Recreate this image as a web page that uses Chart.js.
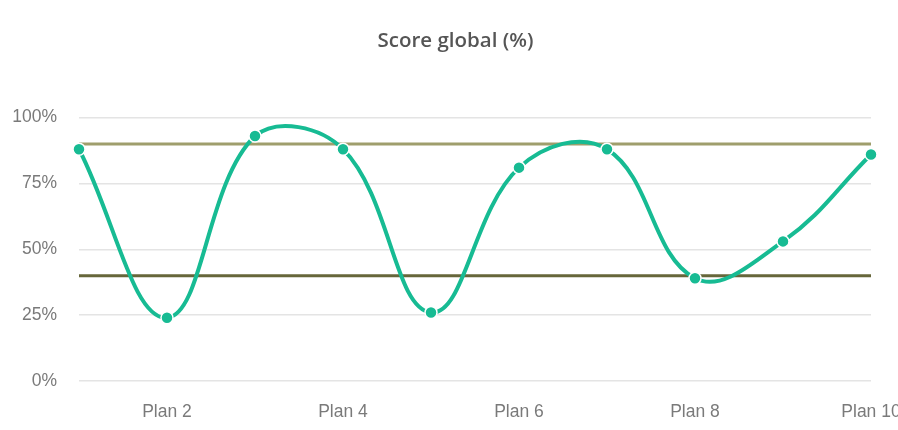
<!DOCTYPE html>
<html>
<head>
<meta charset="utf-8">
<script src="https://cdn.jsdelivr.net/npm/chart.js@4/dist/chart.umd.min.js"></script>
<style>
  html, body { margin: 0; padding: 0; background: #fff; overflow: hidden; }
  #wrap { position: relative; width: 900px; height: 430px; }
</style>
</head>
<body>
<div id="wrap"><canvas id="scoreChart"></canvas></div>
<script>
const plans = ['Plan 1', 'Plan 2', 'Plan 3', 'Plan 4', 'Plan 5', 'Plan 6', 'Plan 7', 'Plan 8', 'Plan 9', 'Plan 10'];
const scores = [88, 24, 93, 88, 26, 81, 88, 39, 53, 86];
const upperLimit = 90;
const lowerLimit = 40;
const yTicks = [0, 25, 50, 75, 100];

const tickFont = { family: "'Liberation Sans', Arial, Helvetica, sans-serif", size: 17.5 };
const tickColor = '#7a7a7a';

const ctx = document.getElementById('scoreChart').getContext('2d');
const chart = new Chart(ctx, {
    type: 'line',
    data: {
        labels: plans,
        datasets: [
            {
                label: 'Score global',
                data: scores,
                borderColor: '#17bb93',
                backgroundColor: '#17bb93',
                borderWidth: 4,
                tension: 0.4,
                pointRadius: 6,
                pointBorderColor: '#ffffff',
                pointBorderWidth: 1.5,
                pointBackgroundColor: '#17bb93',
                fill: false
            },
            {
                label: 'Haut',
                data: plans.map(() => upperLimit),
                borderColor: '#9f9e6c',
                borderWidth: 3,
                pointRadius: 0,
                tension: 0,
                fill: false
            },
            {
                label: 'Bas',
                data: plans.map(() => lowerLimit),
                borderColor: '#66663a',
                borderWidth: 3,
                pointRadius: 0,
                tension: 0,
                fill: false
            }
        ]
    },
    options: {
        responsive: true,
        maintainAspectRatio: false,
        animation: false,
        layout: {
            padding: { left: 11, right: 0, top: 0, bottom: 8 }
        },
        scales: {
            x: {
                grid: { display: false, drawTicks: false },
                border: { display: false },
                afterFit: s => { s.height = 41; s.paddingLeft = 0; s.paddingRight = 29; },
                ticks: {
                    autoSkip: false,
                    maxRotation: 0,
                    minRotation: 0,
                    padding: 21,
                    font: tickFont,
                    // only every second plan is labelled (Plan 2, 4, ...)
                    color: c => c.index % 2 === 1 ? tickColor : 'rgba(0,0,0,0)'
                }
            },
            y: {
                min: 0,
                max: 100,
                afterBuildTicks: axis => { axis.ticks = yTicks.map(v => ({ value: v })); },
                afterFit: axis => { axis.width = 68; },
                grid: { color: '#e4e4e4', lineWidth: 1.5, drawTicks: false },
                border: { display: false },
                ticks: {
                    padding: 22,
                    color: tickColor,
                    font: tickFont,
                    callback: v => v + '%'
                }
            }
        },
        plugins: {
            legend: { display: false },
            tooltip: { enabled: false },
            title: {
                display: true,
                text: 'Score global (%)',
                color: '#555555',
                font: { family: "'Open Sans', sans-serif", size: 20.5, weight: '600' },
                padding: { top: 29, bottom: 64 }
            }
        }
    }
});
</script>
</body>
</html>
